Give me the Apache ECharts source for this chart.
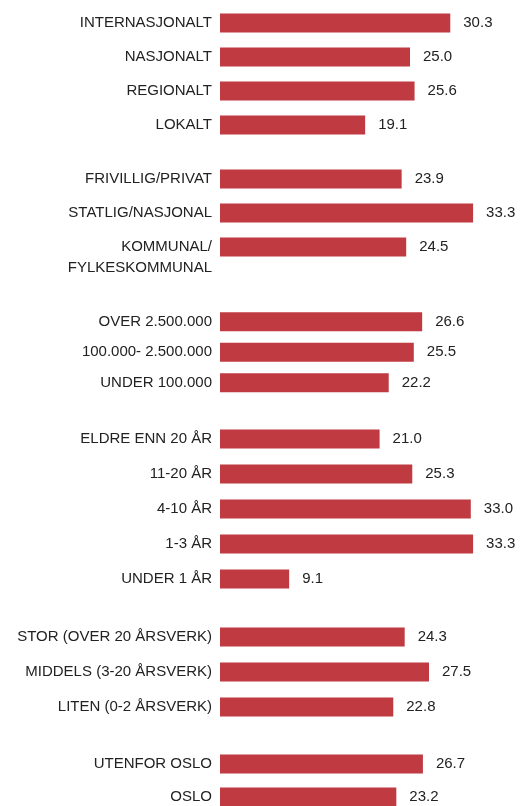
<!DOCTYPE html>
<html>
<head>
<meta charset="UTF-8">
<title>Andel</title>
<script src="https://cdn.jsdelivr.net/npm/echarts@6/dist/echarts.min.js"></script>
<style>
  html, body { margin: 0; padding: 0; background: #fff; }
  #main { width: 528px; height: 806px; }
</style>
</head>
<body>
<div id="main"></div>
<script>
// data, one pair of arrays per group (top to bottom)
var omfangLabels = ['INTERNASJONALT', 'NASJONALT', 'REGIONALT', 'LOKALT'];
var omfangValues = [30.3, 25.0, 25.6, 19.1];

var eierLabels = ['FRIVILLIG/PRIVAT', 'STATLIG/NASJONAL', 'KOMMUNAL/\nFYLKESKOMMUNAL'];
var eierValues = [23.9, 33.3, 24.5];

var budsjettLabels = ['OVER 2.500.000', '100.000- 2.500.000', 'UNDER 100.000'];
var budsjettValues = [26.6, 25.5, 22.2];

var alderLabels = ['ELDRE ENN 20 ÅR', '11-20 ÅR', '4-10 ÅR', '1-3 ÅR', 'UNDER 1 ÅR'];
var alderValues = [21.0, 25.3, 33.0, 33.3, 9.1];

var storrelseLabels = ['STOR (OVER 20 ÅRSVERK)', 'MIDDELS (3-20 ÅRSVERK)', 'LITEN (0-2 ÅRSVERK)'];
var storrelseValues = [24.3, 27.5, 22.8];

var stedLabels = ['UTENFOR OSLO', 'OSLO'];
var stedValues = [26.7, 23.2];

var groups = [
  [omfangLabels, omfangValues],
  [eierLabels, eierValues],
  [budsjettLabels, budsjettValues],
  [alderLabels, alderValues],
  [storrelseLabels, storrelseValues],
  [stedLabels, stedValues]
];

// layout of each block: top of first row and row pitch (px)
var layout = [
  { top: 6, row: 34 },
  { top: 162, row: 34 },
  { top: 306.5, row: 30.5 },
  { top: 421.5, row: 35 },
  { top: 619.5, row: 35 },
  { top: 747.5, row: 33 }
];

var FONT = '"Liberation Sans", Arial, sans-serif';
var RED = '#c03a42';

var grid = [], xAxis = [], yAxis = [], series = [];
groups.forEach(function (g, i) {
  var L = layout[i];
  grid.push({
    left: 220, width: 304, top: L.top, height: L.row * g[0].length,
    containLabel: false, outerBoundsMode: 'none'
  });
  xAxis.push({
    gridIndex: i, type: 'value', min: 0, max: 40,
    show: false
  });
  yAxis.push({
    gridIndex: i, type: 'category', inverse: true, data: g[0],
    axisLine: { show: false }, axisTick: { show: false }, splitLine: { show: false },
    axisLabel: {
      interval: 0, hideOverlap: false,
      margin: 8, color: '#222', fontFamily: FONT, fontSize: 15, lineHeight: 21,
      // keep the first line of a wrapped label on the bar
      formatter: function (v) { return v.indexOf('\n') >= 0 ? ' \n' + v : v; }
    }
  });
  series.push({
    type: 'bar', xAxisIndex: i, yAxisIndex: i, data: g[1],
    barWidth: 19, itemStyle: { color: RED },
    label: {
      show: true, position: 'right', distance: 13,
      color: '#222', fontFamily: FONT, fontSize: 15,
      formatter: function (p) { return p.value.toFixed(1); }
    },
    silent: true, animation: false
  });
});

var myChart = echarts.init(document.getElementById('main'));
myChart.setOption({
  animation: false,
  grid: grid,
  xAxis: xAxis,
  yAxis: yAxis,
  series: series
});
</script>
</body>
</html>
